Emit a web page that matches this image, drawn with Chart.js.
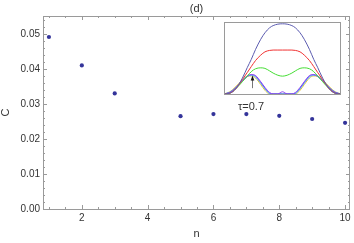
<!DOCTYPE html>
<html>
<head>
<meta charset="utf-8">
<script src="https://cdn.jsdelivr.net/npm/chart.js@4/dist/chart.umd.min.js"></script>
<style>
  html, body { margin: 0; padding: 0; background: #fff; }
  #wrap { position: relative; width: 354px; height: 243px; overflow: hidden; }
  #main-chart { position: absolute; left: 0; top: 0; }
  #inset-chart { position: absolute; left: 224px; top: 22px; background: #fff; }
</style>
</head>
<body>
<div id="wrap">
  <canvas id="main-chart" width="354" height="243"></canvas>
  <canvas id="inset-chart" width="117" height="73"></canvas>
</div>
<script>
// ==============================================================
//
// Data
//
// ==============================================================

const nValues = [1, 2, 3, 5, 6, 7, 8, 9, 10];
const cValues = [0.0491, 0.041, 0.033, 0.0265, 0.0271, 0.0271, 0.0266, 0.0257, 0.0246];
const xTickLabels = [2, 4, 6, 8, 10];
const yTickLabels = [0, 0.01, 0.02, 0.03, 0.04, 0.05];

// inset curves, x runs 0..1 across the inset box
const insetU = [0, 0.05, 0.1, 0.157, 0.2, 0.233, 0.27, 0.314, 0.35, 0.39, 0.42, 0.46, 0.5,
  0.54, 0.58, 0.61, 0.65, 0.686, 0.73, 0.767, 0.8, 0.843, 0.9, 0.95, 1];
const insetBlue = [0, 0.01, 0.07, 0.22, 0.37, 0.48, 0.62, 0.76, 0.85, 0.92, 0.95, 0.97, 0.975,
  0.97, 0.95, 0.92, 0.85, 0.76, 0.62, 0.48, 0.37, 0.22, 0.07, 0.01, 0];
const insetRed = [0, 0.01, 0.07, 0.2, 0.3, 0.38, 0.465, 0.54, 0.585, 0.605, 0.61, 0.61, 0.61,
  0.61, 0.61, 0.605, 0.585, 0.54, 0.465, 0.38, 0.3, 0.2, 0.07, 0.01, 0];
const insetGreen = [0, 0.01, 0.07, 0.17, 0.25, 0.31, 0.35, 0.363, 0.355, 0.32, 0.29, 0.26, 0.247,
  0.26, 0.29, 0.32, 0.355, 0.363, 0.35, 0.31, 0.25, 0.17, 0.07, 0.01, 0];
const insetPurple = [0, 0.02, 0.08, 0.18, 0.245, 0.27, 0.255, 0.17, 0.09, 0.02, 0, 0, 0.03,
  0, 0, 0.02, 0.09, 0.17, 0.255, 0.27, 0.245, 0.18, 0.08, 0.02, 0];
const insetRoyal = [0, 0.02, 0.085, 0.185, 0.245, 0.265, 0.245, 0.16, 0.08, 0.01, 0, 0, 0,
  0, 0, 0.01, 0.08, 0.16, 0.245, 0.265, 0.245, 0.185, 0.085, 0.02, 0];
const insetCyan = [0, 0.025, 0.09, 0.19, 0.25, 0.26, 0.235, 0.15, 0.07, 0.005, 0, 0, 0,
  0, 0, 0.005, 0.07, 0.15, 0.235, 0.26, 0.25, 0.19, 0.09, 0.025, 0];
const insetYellow = [0, 0.03, 0.1, 0.195, 0.245, 0.25, 0.22, 0.13, 0.05, 0, 0, 0, 0,
  0, 0, 0, 0.05, 0.13, 0.22, 0.25, 0.245, 0.195, 0.1, 0.03, 0];

// arrow in the inset (x, from, to) and its label
const arrowX = 0.241;
const arrowFrom = 0.08;
const arrowTo = 0.255;
const tauLabel = "\u03c4=0.7";

// ==============================================================
//
// Frame with inward ticks (Mathematica style)
//
// ==============================================================

const frameColor = "#9a9a9a";
const labelColor = "#333333";

const xMinor = [];
for (let v = 1; v <= 10; v += 0.5) if (!xTickLabels.includes(v)) xMinor.push(v);
const yMinor = [];
for (let k = 1; k <= 27; k++) if (k % 5 !== 0) yMinor.push(k * 0.002);

const frameTicks = {
  id: "frameTicks",
  afterDraw(chart) {
    const { ctx, chartArea: a, scales } = chart;
    const x = scales.x, y = scales.y;
    ctx.save();
    ctx.strokeStyle = frameColor;
    ctx.lineWidth = 1;
    ctx.strokeRect(a.left + 0.5, a.top + 0.5, a.right - a.left - 1, a.bottom - a.top);
    const tickX = (v, len) => {
      const px = Math.round(x.getPixelForValue(v)) + 0.5;
      ctx.beginPath();
      ctx.moveTo(px, a.bottom); ctx.lineTo(px, a.bottom - len);
      ctx.moveTo(px, a.top); ctx.lineTo(px, a.top + len);
      ctx.stroke();
    };
    const tickY = (v, len) => {
      const py = Math.round(y.getPixelForValue(v)) + 0.5;
      ctx.beginPath();
      ctx.moveTo(a.left, py); ctx.lineTo(a.left + len, py);
      ctx.moveTo(a.right, py); ctx.lineTo(a.right - len, py);
      ctx.stroke();
    };
    xTickLabels.forEach((v) => tickX(v, 4));
    xMinor.forEach((v) => tickX(v, 2));
    yTickLabels.forEach((v) => tickY(v, 4));
    yMinor.forEach((v) => tickY(v, 2));

    // titles
    ctx.fillStyle = labelColor;
    ctx.font = "11px 'Liberation Sans', Arial, sans-serif";
    ctx.textAlign = "center";
    ctx.textBaseline = "alphabetic";
    const cx = (a.left + a.right) / 2;
    ctx.fillText("(d)", cx, 12);
    ctx.fillText("n", cx, 237);
    ctx.fillText(tauLabel, 251, 109.5);
    ctx.translate(9, (a.top + a.bottom) / 2);
    ctx.rotate(-Math.PI / 2);
    ctx.fillText("C", 0, 0);
    ctx.restore();
  },
};

// ==============================================================
//
// Main scatter chart
//
// ==============================================================

let mainCtx = document.getElementById("main-chart").getContext("2d");
let mainChart = new Chart(mainCtx, {
  type: "scatter",
  data: {
    datasets: [
      {
        data: nValues.map((n, i) => ({ x: n, y: cValues[i] })),
        backgroundColor: "#34349a",
        borderWidth: 0,
        pointRadius: 2.1,
      },
    ],
  },
  options: {
    responsive: false,
    animation: false,
    layout: { padding: { top: 16, right: 1, left: 0, bottom: 0 } },
    plugins: { legend: { display: false }, tooltip: { enabled: false } },
    scales: {
      x: {
        type: "linear",
        min: 0.82,
        max: 10.15,
        afterBuildTicks: (s) => { s.ticks = xTickLabels.map((v) => ({ value: v })); },
        afterFit: (s) => { s.height = 34; },
        grid: { display: false, drawTicks: false },
        border: { display: false },
        ticks: {
          padding: 3,
          color: labelColor,
          font: { family: "'Liberation Sans', Arial, sans-serif", size: 10 },
          maxRotation: 0,
        },
      },
      y: {
        type: "linear",
        min: 0,
        max: 0.0551,
        afterBuildTicks: (s) => { s.ticks = yTickLabels.map((v) => ({ value: v })); },
        afterFit: (s) => { s.width = 43; },
        grid: { display: false, drawTicks: false },
        border: { display: false },
        ticks: {
          padding: 3,
          color: labelColor,
          font: { family: "'Liberation Sans', Arial, sans-serif", size: 10 },
          callback: (v) => Number(v).toFixed(2),
        },
      },
    },
  },
  plugins: [frameTicks],
});

// ==============================================================
//
// Inset line chart
//
// ==============================================================

const insetBox = {
  id: "insetBox",
  afterDraw(chart) {
    const { ctx, chartArea: a, scales } = chart;
    ctx.save();
    ctx.strokeStyle = frameColor;
    ctx.lineWidth = 1;
    ctx.strokeRect(a.left + 0.5, a.top + 0.5, a.right - a.left - 1, a.bottom - a.top - 1);
    // arrow
    const px = Math.round(scales.x.getPixelForValue(arrowX)) + 0.5;
    const y0 = scales.y.getPixelForValue(arrowFrom);
    const y1 = scales.y.getPixelForValue(arrowTo);
    ctx.strokeStyle = "#777";
    ctx.beginPath();
    ctx.moveTo(px, y0); ctx.lineTo(px, y1 + 3);
    ctx.stroke();
    ctx.fillStyle = "#111";
    ctx.beginPath();
    ctx.moveTo(px, y1);
    ctx.lineTo(px - 1.8, y1 + 5);
    ctx.lineTo(px + 1.8, y1 + 5);
    ctx.closePath();
    ctx.fill();
    ctx.restore();
  },
};

const makeCurve = (values, color) => ({
  data: insetU.map((u, i) => ({ x: u, y: values[i] })),
  borderColor: color,
  borderWidth: 1,
  pointRadius: 0,
  fill: false,
  cubicInterpolationMode: "monotone",
});

let insetCtx = document.getElementById("inset-chart").getContext("2d");
let insetChart = new Chart(insetCtx, {
  type: "line",
  data: {
    datasets: [
      makeCurve(insetBlue, "#5c5cb0"),
      makeCurve(insetRed, "#f03232"),
      makeCurve(insetGreen, "#44dd33"),
      makeCurve(insetPurple, "#9040f0"),
      makeCurve(insetRoyal, "#6078f4"),
      makeCurve(insetCyan, "#40c4f0"),
      makeCurve(insetYellow, "#e6c030"),
    ],
  },
  options: {
    responsive: false,
    animation: false,
    layout: { padding: 0 },
    plugins: { legend: { display: false }, tooltip: { enabled: false } },
    scales: {
      x: { type: "linear", min: 0, max: 1, display: false },
      y: { type: "linear", min: -0.015, max: 1.0, display: false },
    },
  },
  plugins: [insetBox],
});
</script>
</body>
</html>
